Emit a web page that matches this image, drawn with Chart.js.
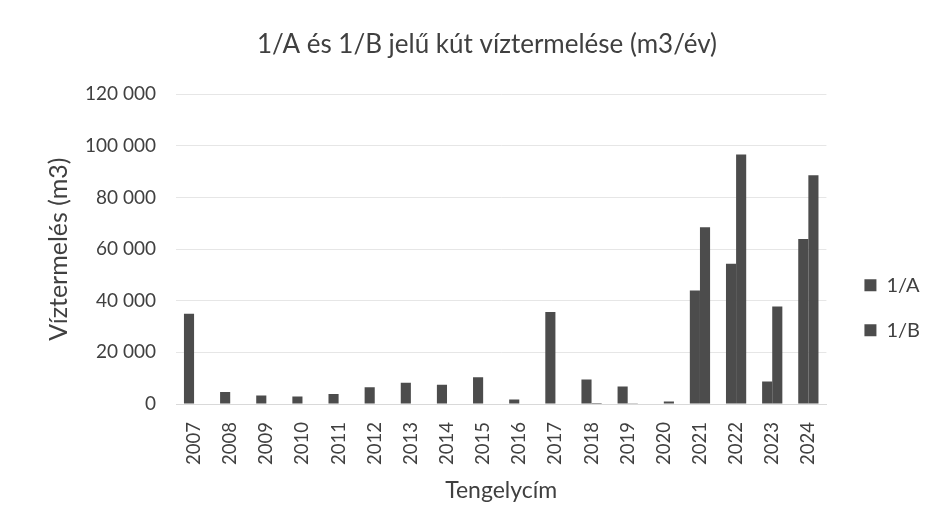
<!DOCTYPE html>
<html>
<head>
<meta charset="utf-8">
<script src="https://cdn.jsdelivr.net/npm/chart.js@4"></script>
<style>
  html, body { margin: 0; padding: 0; background: #fff; }
  #wrap { width: 932px; height: 528px; }
</style>
</head>
<body>
<div id="wrap"><canvas id="chart" width="932" height="528"></canvas></div>
<script>
const years = ['2007','2008','2009','2010','2011','2012','2013','2014','2015','2016','2017','2018','2019','2020','2021','2022','2023','2024'];
const wellA = [35000, 4600, 3300, 2900, 3900, 6500, 8200, 7500, 10400, 1700, 35600, 9500, 6800, 0, 44000, 54300, 8700, 63900];
const wellB = [0, 0, 0, 0, 0, 0, 0, 0, 0, 0, 150, 400, 300, 1000, 68500, 96600, 37800, 88600];
const yTicks = [0, 20000, 40000, 60000, 80000, 100000, 120000];

const font = 'Lato, "Open Sans", sans-serif';
const textColor = '#404040';
const barColor = '#4c4c4c';

function fmt(v) {
  return String(v).replace(/\B(?=(\d{3})+(?!\d))/g, ' ');
}

const ctx = document.getElementById('chart').getContext('2d');
new Chart(ctx, {
  type: 'bar',
  data: {
    labels: years,
    datasets: [
      { label: '1/A', data: wellA, backgroundColor: barColor },
      { label: '1/B', data: wellB, backgroundColor: barColor }
    ]
  },
  options: {
    responsive: false,
    animation: false,
    layout: { padding: { left: 44, right: 2, top: 0, bottom: 24 } },
    datasets: { bar: { categoryPercentage: 0.56, barPercentage: 1 } },
    plugins: {
      title: {
        display: true,
        text: '1/A és 1/B jelű kút víztermelése (m3/év)',
        color: textColor,
        font: { family: font, size: 26, weight: 'normal' },
        padding: { top: 29, bottom: 34 }
      },
      legend: {
        position: 'right',
        title: { display: true, text: '', padding: { top: 97, bottom: 0 } },
        labels: {
          color: textColor,
          boxWidth: 12,
          boxHeight: 12,
          padding: 25,
          font: { family: font, size: 20 }
        }
      },
      tooltip: { enabled: false }
    },
    scales: {
      x: {
        grid: { display: false },
        border: { display: true, color: '#d9d9d9' },
        ticks: {
          color: textColor,
          minRotation: 90,
          maxRotation: 90,
          padding: 10,
          font: { family: font, size: 18.5 }
        },
        title: {
          display: true,
          text: 'Tengelycím',
          color: textColor,
          padding: { top: 0, bottom: 0 },
          font: { family: font, size: 23 }
        },
        afterFit: axis => { axis.height = 100; }
      },
      y: {
        min: 0,
        max: 120000,
        afterBuildTicks: axis => { axis.ticks = yTicks.map(v => ({ value: v })); },
        grid: { color: '#e6e6e6', drawTicks: false },
        border: { display: false },
        ticks: {
          color: textColor,
          padding: 20,
          font: { family: font, size: 19 },
          callback: v => fmt(v)
        },
        title: {
          display: true,
          text: 'Víztermelés (m3)',
          color: textColor,
          padding: { top: 0, bottom: 0 },
          font: { family: font, size: 25 }
        },
        afterFit: axis => { axis.width = 132; }
      },
      // empty right-side axis, only keeps a gap between the plot and the legend
      gap: {
        position: 'right',
        grid: { display: false },
        border: { display: false },
        ticks: { display: false },
        afterFit: axis => { axis.width = 13; }
      }
    }
  }
});
</script>
</body>
</html>
